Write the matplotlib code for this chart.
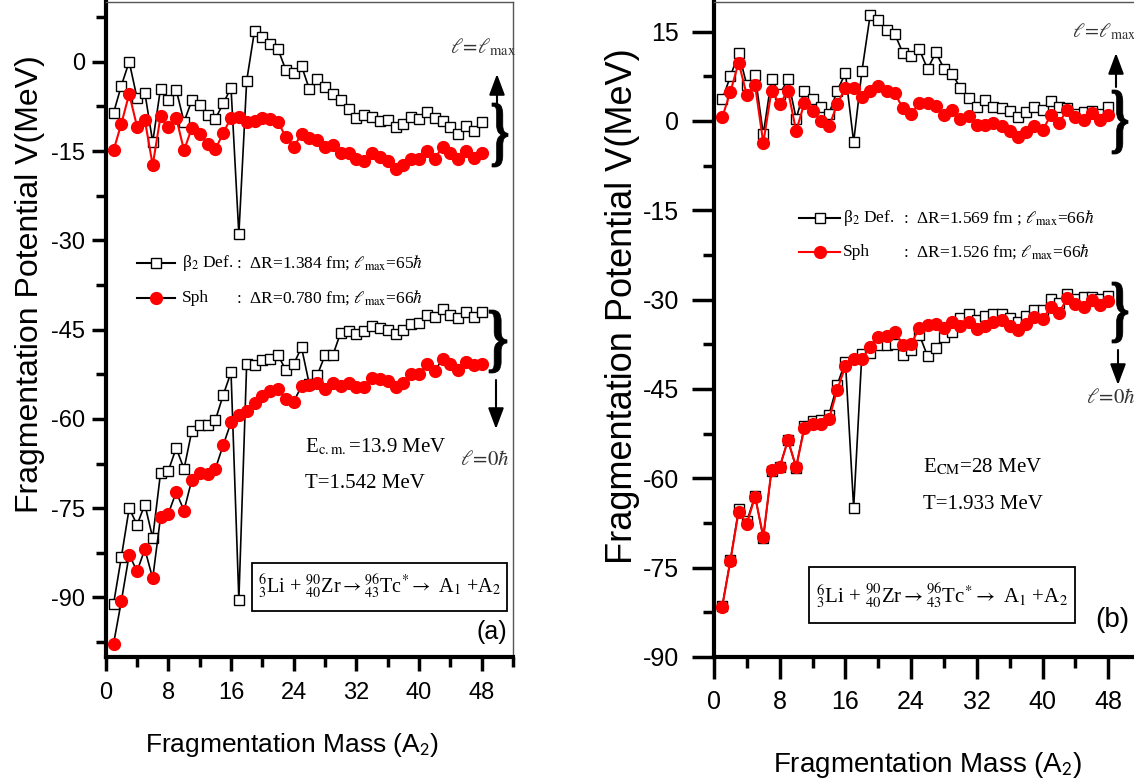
import numpy as np
import matplotlib
matplotlib.use("Agg")
import matplotlib.pyplot as plt
from matplotlib.font_manager import FontProperties
from matplotlib.patches import PathPatch, Rectangle
from matplotlib.textpath import TextPath
from matplotlib.transforms import Affine2D

plt.rcParams["font.family"] = "Liberation Sans"
plt.rcParams["mathtext.fontset"] = "stix"
plt.rcParams["axes.unicode_minus"] = False

# fragment mass A2
A2 = np.arange(1, 49)

# (a) 6Li + 90Zr, Ecm = 13.9 MeV
a_def_lmax = [-8.6, -4.0, 0.0, -6.1, -5.2, -13.5, -4.5, -6.4, -4.7, -10.1,
              -6.5, -7.2, -8.9, -9.6, -7.0, -4.4, -29.0, -3.2, 5.2, 4.1,
              3.0, 2.1, -1.4, -1.9, -0.7, -4.6, -2.9, -4.3, -5.4, -6.4,
              -7.9, -9.4, -8.9, -9.3, -9.9, -9.8, -11.0, -10.5, -9.3, -9.6,
              -8.5, -9.4, -10.0, -11.0, -12.1, -10.8, -11.7, -10.1]
a_sph_lmax = [-14.9, -10.4, -5.4, -10.9, -9.8, -17.4, -9.2, -11.0, -9.4, -14.9,
              -11.1, -12.1, -13.9, -14.7, -12.0, -9.4, -9.3, -10.1, -9.9, -9.4,
              -9.6, -10.1, -12.7, -14.3, -12.2, -12.8, -13.2, -14.4, -14.0, -15.3,
              -15.4, -16.3, -16.6, -15.4, -16.0, -16.7, -18.1, -17.4, -16.4, -16.4,
              -15.0, -16.3, -14.3, -15.4, -16.4, -15.0, -16.1, -15.4]
a_def_l0 = [-91.1, -83.2, -75.0, -77.8, -74.4, -80.0, -69.1, -68.7, -64.9, -68.4,
            -62.0, -61.0, -61.0, -60.2, -56.0, -52.2, -90.4, -50.7, -51.0, -50.1,
            -49.9, -49.3, -51.8, -50.8, -48.0, -54.2, -52.7, -49.3, -49.3, -45.5,
            -45.2, -45.7, -45.3, -44.4, -44.8, -45.0, -45.8, -45.0, -44.0, -43.9,
            -42.6, -42.9, -41.6, -42.5, -43.0, -42.1, -42.9, -42.1]
a_sph_l0 = [-97.8, -90.6, -82.8, -85.6, -81.9, -86.8, -76.5, -75.9, -72.3, -75.4,
            -70.2, -69.1, -69.2, -68.4, -64.4, -60.6, -59.4, -58.6, -57.4, -56.1,
            -55.3, -55.0, -56.6, -57.1, -54.5, -54.3, -54.0, -54.9, -54.0, -54.5,
            -54.0, -54.7, -54.7, -53.2, -53.3, -53.6, -54.7, -54.0, -52.5, -52.5,
            -50.8, -51.9, -50.0, -50.8, -51.8, -50.4, -51.0, -50.7]

# (b) 6Li + 90Zr, Ecm = 28 MeV
b_def_lmax = [3.6, 7.5, 11.4, 6.0, 7.7, -2.2, 7.0, 4.5, 7.0, 0.4,
              5.1, 3.6, 2.4, 1.2, 5.1, 8.0, -3.5, 8.3, 17.7, 17.0,
              15.2, 14.6, 11.4, 10.9, 12.0, 8.7, 11.5, 8.8, 7.9, 5.5,
              3.9, 2.4, 3.5, 2.4, 2.1, 1.7, 0.6, 1.5, 2.4, 1.9,
              3.4, 2.3, 2.1, 1.2, 1.5, 1.7, 1.1, 2.3]
b_sph_lmax = [0.6, 4.9, 9.8, 4.3, 6.0, -3.7, 5.1, 2.8, 5.1, -1.7,
              3.0, 1.7, 0.0, -0.9, 2.8, 5.6, 5.6, 4.0, 5.1, 5.9,
              5.1, 4.7, 2.1, 1.1, 3.0, 3.0, 2.5, 1.0, 1.9, 0.4,
              0.8, -0.7, -0.6, -0.3, -0.9, -1.7, -2.7, -1.9, -0.9, -1.6,
              1.0, -0.3, 1.9, 0.6, 0.1, 1.3, 0.2, 1.0]
b_def_l0 = [-81.4, -73.7, -65.2, -67.2, -62.9, -70.0, -58.7, -58.1, -53.6, -58.2,
            -51.2, -50.3, -50.2, -49.3, -44.3, -40.4, -65.0, -39.1, -38.9, -37.6,
            -37.6, -37.4, -39.3, -38.4, -35.9, -39.5, -38.1, -36.3, -35.4, -33.1,
            -32.4, -33.5, -32.8, -32.4, -32.4, -33.1, -33.7, -32.8, -31.8, -31.8,
            -29.9, -30.6, -29.0, -29.9, -29.6, -29.6, -29.9, -29.4]
b_sph_l0 = [-81.6, -73.8, -65.6, -67.6, -63.1, -69.8, -58.6, -58.1, -53.6, -58.1,
            -51.6, -50.8, -50.8, -50.1, -45.1, -41.2, -40.0, -40.0, -38.0, -36.3,
            -36.1, -35.4, -37.6, -37.4, -34.8, -34.2, -34.1, -34.8, -33.8, -34.4,
            -33.8, -35.0, -34.4, -33.7, -33.5, -34.4, -35.1, -34.1, -32.9, -33.3,
            -31.2, -32.2, -29.8, -30.7, -31.3, -30.0, -30.9, -30.3]

legend_names = [r"β$_{2}$ Def.", "Sph"]
a_detail = [r":  ΔR=1.384 fm; $\ell_{\rm max}$=65$\hbar$",
            r":  ΔR=0.780 fm; $\ell_{\rm max}$=66$\hbar$"]
b_detail = [r":  ΔR=1.569 fm ; $\ell_{\rm max}$=66$\hbar$",
            r":  ΔR=1.526 fm; $\ell_{\rm max}$=66$\hbar$"]

W, H = 1134, 783
SERIF = "Liberation Serif"


def fx(px):
    return px / W


def fy(py):
    return 1 - py / H


def style_axes(ax, ylim, major_len, minor_len, tick_fs, ypad, xpad):
    ax.set_xticks(np.arange(0, 49, 8))
    ax.set_xticks(np.arange(4, 53, 8), minor=True)
    ymaj = np.arange(-90, ylim[1] + 0.1, 15)
    ymin = np.arange(-97.5, ylim[1] + 0.1, 15)
    ax.set_yticks(ymaj[ymaj <= ylim[1]])
    ax.set_yticks(ymin[ymin >= ylim[0]], minor=True)
    ax.set_xlim(0, 52)
    ax.set_ylim(*ylim)
    ax.tick_params(which="both", direction="out", width=2.5, top=False, right=False)
    ax.tick_params(which="major", length=major_len, labelsize=tick_fs)
    ax.tick_params(which="minor", length=minor_len)
    ax.tick_params(axis="y", pad=ypad)
    ax.tick_params(axis="x", pad=xpad)
    for side in ("left", "bottom"):
        ax.spines[side].set_linewidth(3)
    for side in ("top", "right"):
        ax.spines[side].set_linewidth(1)
        ax.spines[side].set_color("#555555")


def draw_brace(fig, x0, y0, x1, y1):
    # curly brace glyph stretched into a pixel box
    tp = TextPath((0, 0), "}", size=1, prop=FontProperties(family=SERIF, weight="bold"))
    ext = tp.get_extents()
    tr = (Affine2D().translate(-ext.x0, -ext.y0)
          .scale((x1 - x0) / ext.width / W, (y1 - y0) / ext.height / H)
          .translate(fx(x0), fy(y1)))
    fig.add_artist(PathPatch(tr.transform_path(tp), transform=fig.transFigure,
                             fc="black", ec="black", lw=0.5))


def draw_arrow(ax, x, y_from, y_to):
    ax.annotate("", xy=(fx(x), fy(y_to)), xytext=(fx(x), fy(y_from)),
                xycoords="figure fraction", textcoords="figure fraction",
                arrowprops=dict(arrowstyle="-|>,head_length=0.8,head_width=0.3",
                                mutation_scale=16, lw=1.5, color="black",
                                shrinkA=0, shrinkB=0))


mk_size = {"s": 7.5, "o": 8.5}
mec_of = {"s": "black", "o": "red"}


def legend_rows(fig, rows, y_rows, x_line, x_name, x_detail, fs):
    for (line_c, mk, mfc, name, detail), y in zip(rows, y_rows):
        fig.add_artist(plt.Line2D([fx(x_line[0]), fx(x_line[1])], [fy(y), fy(y)],
                                  transform=fig.transFigure, color=line_c, lw=1.5))
        fig.add_artist(plt.Line2D([fx((x_line[0] + x_line[1]) / 2)], [fy(y)],
                                  transform=fig.transFigure, marker=mk, ms=mk_size[mk],
                                  mfc=mfc, mec=mec_of[mk], mew=1.0, ls="none"))
        fig.text(fx(x_name), fy(y), name, family=SERIF, fontsize=fs, va="center")
        fig.text(fx(x_detail), fy(y), detail, family=SERIF, fontsize=fs, va="center")


fig = plt.figure(figsize=(W / 100, H / 100), dpi=100)
ax_a = fig.add_axes([fx(105.7), fy(657), (513 - 105.7) / W, (657 - 2.2) / H])
ax_b = fig.add_axes([fx(714), fy(657), 52 * 8.215 / W, (657 - 1.8) / H])

sq = dict(marker="s", ms=7, mfc="white", mec="black", mew=1.0)
ci = dict(marker="o", ms=8.5, mfc="red", mec="red")

# ---- panel (a)
style_axes(ax_a, (-100, 10), 10, 7, 17, 5, 8)
ax_a.plot(A2, a_def_lmax, color="black", lw=1.2, **sq)
ax_a.plot(A2, a_def_l0, color="black", lw=1.2, **sq)
ax_a.plot(A2, a_sph_lmax, color="red", lw=1.5, **ci)
ax_a.plot(A2, a_sph_l0, color="black", lw=1.2, **ci)

ax_a.set_xlabel(r"Fragmentation Mass (A$_\mathsf{2}$)", fontsize=19)
ax_a.xaxis.set_label_coords(0.457, -0.134)
ax_a.xaxis.label.set_va("center")
ax_a.set_ylabel("Fragmentation Potential V(MeV)", fontsize=23)
ax_a.yaxis.set_label_coords(-0.186, 0.57)
ax_a.yaxis.label.set_va("center")

# ---- panel (b)
style_axes(ax_b, (-90, 20), 16, 8, 18, 9, 8)
ax_b.plot(A2, b_def_lmax, color="black", lw=1.2, **sq)
ax_b.plot(A2, b_def_l0, color="black", lw=1.2, **sq)
ax_b.plot(A2, b_sph_lmax, color="red", lw=1.5, **ci)
ax_b.plot(A2, b_sph_l0, color="red", lw=1.5, **ci)

ax_b.set_xlabel(r"Fragmentation Mass (A$_\mathsf{2}$)", fontsize=20)
ax_b.xaxis.set_label_coords(0.501, -0.165)
ax_b.xaxis.label.set_va("center")
ax_b.set_ylabel("Fragmentation Potential V(MeV)", fontsize=26)
ax_b.yaxis.set_label_coords(-0.215, 0.535)
ax_b.yaxis.label.set_va("center")

# legends
legend_rows(fig, [("black", "s", "white", legend_names[0], a_detail[0]),
                  ("black", "o", "red", legend_names[1], a_detail[1])],
            [263, 298], (137, 175), 182, 236, 12.5)
legend_rows(fig, [("black", "s", "white", legend_names[0], b_detail[0]),
                  ("red", "o", "red", legend_names[1], b_detail[1])],
            [218, 252], (799, 840), 843, 903, 12.5)

# angular momentum braces and arrows
draw_brace(fig, 492, 103, 508, 167)
draw_brace(fig, 489, 310, 507, 373)
draw_brace(fig, 1112, 90, 1128, 154)
draw_brace(fig, 1112, 282, 1128, 343)
draw_arrow(ax_a, 497, 103, 74)
draw_arrow(ax_a, 496, 380, 429)
draw_arrow(ax_b, 1116, 87, 53)
draw_arrow(ax_b, 1118, 350, 385)

lmax_txt = r"$\ell\!=\!\ell_{\rm max}$"
l0_txt = r"$\ell\!=\!0\hbar$"
fig.text(fx(450), fy(53), lmax_txt, fontsize=15, color="#333333", va="baseline")
fig.text(fx(460), fy(465), l0_txt, fontsize=15, color="#333333", va="baseline")
fig.text(fx(1072), fy(37), lmax_txt, fontsize=14.5, color="#333333", va="baseline")
fig.text(fx(1086), fy(403), l0_txt, fontsize=15, color="#333333", va="baseline")

# reaction conditions
fig.text(fx(305), fy(452), r"E$_{\rm c.m.}$=13.9 MeV", family=SERIF, fontsize=15, va="baseline")
fig.text(fx(305), fy(488), "T=1.542 MeV", family=SERIF, fontsize=15, va="baseline")
fig.text(fx(923), fy(472), r"E$_{\rm CM}$=28 MeV", family=SERIF, fontsize=15, va="baseline")
fig.text(fx(923), fy(509), "T=1.933 MeV", family=SERIF, fontsize=15, va="baseline")

reaction = (r"${}^{6}_{3}$Li + ${}^{90}_{40}$Zr$\rightarrow{}^{96}_{43}$Tc$^{*}$"
            r"$\rightarrow$ A$_1$ +A$_2$")
for (x0, y0, x1, y1), fs in (((252, 563, 507, 611), 14.5), ((809, 567, 1075, 623), 15)):
    fig.add_artist(Rectangle((fx(x0), fy(y1)), (x1 - x0) / W, (y1 - y0) / H,
                             transform=fig.transFigure, fc="white", ec="black", lw=1.3))
    fig.text(fx((x0 + x1) / 2), fy((y0 + y1) / 2), reaction, family=SERIF,
             fontsize=fs, ha="center", va="center")

fig.text(fx(477), fy(632), "(a)", fontsize=18, va="center")
fig.text(fx(1095), fy(620), "(b)", fontsize=20, va="center")

fig.savefig("out.png", dpi=100)
